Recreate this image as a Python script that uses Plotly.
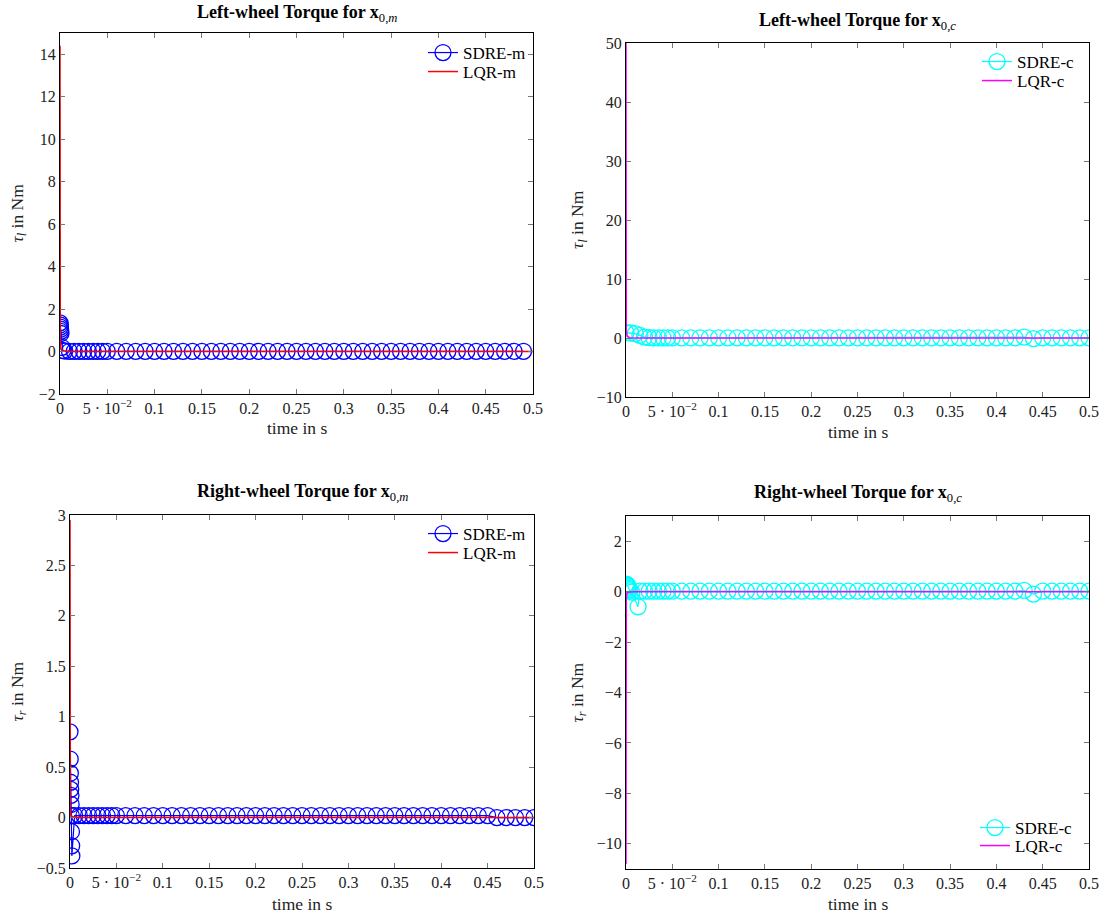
import plotly.graph_objects as go

# ---------------- data ----------------
# SDRE-m, left wheel
t_sdre_m_l = [0, 0.0002, 0.0004, 0.0006, 0.0008, 0.001, 0.002, 0.003,
              0.005, 0.01, 0.015, 0.02, 0.025, 0.03, 0.035, 0.04, 0.045, 0.05,
              0.06, 0.07, 0.08, 0.09, 0.1, 0.11, 0.12, 0.13, 0.14, 0.15, 0.16, 0.17, 0.18, 0.19,
              0.2, 0.21, 0.22, 0.23, 0.24, 0.25, 0.26, 0.27, 0.28, 0.29, 0.3, 0.31, 0.32, 0.33,
              0.34, 0.35, 0.36, 0.37, 0.38, 0.39, 0.4, 0.41, 0.42, 0.43, 0.44, 0.45, 0.46, 0.47,
              0.48, 0.49]
y_sdre_m_l = [1.35, 1.25, 1.15, 1.05, 0.95, 0.85, 0.2, 0.05,
              0.02, 0.01, 0.01, 0.01, 0.01, 0.01, 0.01, 0.01, 0.01, 0.01,
              0.01, 0.01, 0.01, 0.01, 0.01, 0.01, 0.01, 0.01, 0.01, 0.01, 0.01, 0.01, 0.01, 0.01,
              0.01, 0.01, 0.01, 0.01, 0.01, 0.01, 0.01, 0.01, 0.01, 0.01, 0.01, 0.01, 0.01, 0.01,
              0.01, 0.01, 0.01, 0.01, 0.01, 0.01, 0.01, 0.01, 0.01, 0.01, 0.01, 0.01, 0.01, 0.01,
              0.01, 0.01]
t_lqr_m_l = [0, 0.00005, 0.0001, 0.0003, 0.001, 0.004, 0.01, 0.05, 0.1, 0.2, 0.3, 0.4, 0.5]
y_lqr_m_l = [14.4, 6.0, 2.0, 0.5, 0.1, 0.02, 0.0, 0.0, 0.0, 0.0, 0.0, 0.0, 0.0]

# SDRE-c, left wheel
t_sdre_c_l = [0, 0.005, 0.01, 0.015, 0.02, 0.025, 0.03, 0.035, 0.04, 0.045, 0.05,
              0.06, 0.07, 0.08, 0.09, 0.1, 0.11, 0.12, 0.13, 0.14, 0.15, 0.16, 0.17, 0.18, 0.19,
              0.2, 0.21, 0.22, 0.23, 0.24, 0.25, 0.26, 0.27, 0.28, 0.29, 0.3, 0.31, 0.32, 0.33,
              0.34, 0.35, 0.36, 0.37, 0.38, 0.39, 0.4, 0.41, 0.42, 0.43, 0.44, 0.45, 0.46, 0.47,
              0.48, 0.49, 0.5]
y_sdre_c_l = [0.9, 0.85, 0.75, 0.45, 0.15, 0.05, 0.03, 0.03, 0.03, 0.03, 0.03,
              0.03, 0.03, 0.03, 0.03, 0.03, 0.03, 0.03, 0.03, 0.03, 0.03, 0.03, 0.03, 0.03, 0.03,
              0.03, 0.03, 0.03, 0.03, 0.03, 0.03, 0.03, 0.03, 0.03, 0.03, 0.03, 0.03, 0.03, 0.03,
              0.03, 0.03, 0.03, 0.03, 0.03, 0.03, 0.03, 0.03, 0.03, 0.15, -0.1, 0.03, 0.03, 0.03,
              0.03, 0.03, 0.03]
t_lqr_c_l = [0, 0.00005, 0.0001, 0.0003, 0.001, 0.004, 0.01, 0.05, 0.1, 0.2, 0.3, 0.4, 0.5]
y_lqr_c_l = [50.0, 20.0, 6.0, 1.5, 0.3, 0.05, 0.0, 0.0, 0.0, 0.0, 0.0, 0.0, 0.0]

# SDRE-m, right wheel
t_sdre_m_r = [0, 0.0002, 0.0004, 0.0006, 0.0008, 0.001, 0.0012, 0.0014, 0.0016, 0.0018, 0.002,
              0.005, 0.01, 0.015, 0.02, 0.025, 0.03, 0.035, 0.04, 0.045, 0.05,
              0.06, 0.07, 0.08, 0.09, 0.1, 0.11, 0.12, 0.13, 0.14, 0.15, 0.16, 0.17, 0.18, 0.19,
              0.2, 0.21, 0.22, 0.23, 0.24, 0.25, 0.26, 0.27, 0.28, 0.29, 0.3, 0.31, 0.32, 0.33,
              0.34, 0.35, 0.36, 0.37, 0.38, 0.39, 0.4, 0.41, 0.42, 0.43, 0.44, 0.45, 0.46, 0.47,
              0.48, 0.49, 0.5]
y_sdre_m_r = [0.85, 0.58, 0.44, 0.35, 0.28, 0.22, 0.13, 0.02, -0.14, -0.28, -0.38,
              0.02, 0.02, 0.02, 0.02, 0.02, 0.02, 0.02, 0.02, 0.02, 0.02,
              0.02, 0.02, 0.02, 0.02, 0.02, 0.02, 0.02, 0.02, 0.02, 0.02, 0.02, 0.02, 0.02, 0.02,
              0.02, 0.02, 0.02, 0.02, 0.02, 0.02, 0.02, 0.02, 0.02, 0.02, 0.02, 0.02, 0.02, 0.02,
              0.02, 0.02, 0.02, 0.02, 0.02, 0.02, 0.02, 0.02, 0.02, 0.02, 0.02, 0.02, 0.0, 0.0,
              0.0, 0.0, 0.0]
t_lqr_m_r = [0, 0.00005, 0.0001, 0.0003, 0.001, 0.004, 0.01, 0.05, 0.1, 0.2, 0.3, 0.4, 0.5]
y_lqr_m_r = [2.95, 1.2, 0.4, 0.1, 0.02, 0.005, 0.0, 0.0, 0.0, 0.0, 0.0, 0.0, 0.0]

# SDRE-c, right wheel
t_sdre_c_r = [0, 0.0004, 0.0008, 0.0012, 0.0016, 0.002, 0.0025, 0.003, 0.0035, 0.004,
              0.006, 0.013, 0.015, 0.02, 0.025, 0.03, 0.035, 0.04, 0.045, 0.05,
              0.06, 0.07, 0.08, 0.09, 0.1, 0.11, 0.12, 0.13, 0.14, 0.15, 0.16, 0.17, 0.18, 0.19,
              0.2, 0.21, 0.22, 0.23, 0.24, 0.25, 0.26, 0.27, 0.28, 0.29, 0.3, 0.31, 0.32, 0.33,
              0.34, 0.35, 0.36, 0.37, 0.38, 0.39, 0.4, 0.41, 0.42, 0.43, 0.44, 0.45, 0.46, 0.47,
              0.48, 0.49, 0.5]
y_sdre_c_r = [0.3, 0.29, 0.28, 0.27, 0.25, 0.22, 0.18, 0.13, 0.08, 0.03,
              -0.02, -0.6, 0.02, 0.02, 0.02, 0.02, 0.02, 0.02, 0.02, 0.02,
              0.02, 0.02, 0.02, 0.02, 0.02, 0.02, 0.02, 0.02, 0.02, 0.02, 0.02, 0.02, 0.02, 0.02,
              0.02, 0.02, 0.02, 0.02, 0.02, 0.02, 0.02, 0.02, 0.02, 0.02, 0.02, 0.02, 0.02, 0.02,
              0.02, 0.02, 0.02, 0.02, 0.02, 0.02, 0.02, 0.02, 0.02, 0.05, -0.1, 0.02, 0.02, 0.02,
              0.02, 0.02, 0.02]
t_lqr_c_r = [0, 0.00005, 0.0001, 0.0003, 0.001, 0.004, 0.01, 0.05, 0.1, 0.2, 0.3, 0.4, 0.5]
y_lqr_c_r = [-10.8, -4.0, -1.2, -0.3, -0.05, -0.01, 0.0, 0.0, 0.0, 0.0, 0.0, 0.0, 0.0]

x_tickvals = [0, 0.05, 0.1, 0.15, 0.2, 0.25, 0.3, 0.35, 0.4, 0.45, 0.5]
x_ticktext = ["0", "5 · 10<sup>−2</sup>", "0.1", "0.15", "0.2", "0.25", "0.3", "0.35", "0.4", "0.45", "0.5"]

yt_tl = [-2, 0, 2, 4, 6, 8, 10, 12, 14]
yt_tr = [-10, 0, 10, 20, 30, 40, 50]
yt_bl = [-0.5, 0, 0.5, 1, 1.5, 2, 2.5, 3]
yt_br = [-10, -8, -6, -4, -2, 0, 2]

titles = ["<b>Left-wheel Torque for x</b><sub>0,<i>m</i></sub>",
          "<b>Left-wheel Torque for x</b><sub>0,<i>c</i></sub>",
          "<b>Right-wheel Torque for x</b><sub>0,<i>m</i></sub>",
          "<b>Right-wheel Torque for x</b><sub>0,<i>c</i></sub>"]
ylabels = ["<i>τ<sub>l</sub></i> in Nm", "<i>τ<sub>l</sub></i> in Nm",
           "<i>τ<sub>r</sub></i> in Nm", "<i>τ<sub>r</sub></i> in Nm"]
xlabel = "time in s"

# ---------------- figure ----------------
W, H = 1107, 917
FONT = "Liberation Serif"
BLUE = "#0000ff"
RED = "#ff0000"
CYAN = "#00ffff"
MAGENTA = "#ff00ff"

# panel pixel boxes: left, right, top, bottom
boxes = [(60, 533, 33, 394), (626, 1089, 43, 397), (70, 534, 515, 868), (626, 1089, 516, 869)]
yranges = [[-2, 15], [-10, 50], [-0.5, 3], [-11, 3]]
yticks = [yt_tl, yt_tr, yt_bl, yt_br]

def fmt(v):
    s = ("%g" % v)
    return s.replace("-", "−")

fig = go.Figure()

series = [
    (t_sdre_m_l, y_sdre_m_l, "SDRE-m", BLUE, t_lqr_m_l, y_lqr_m_l, "LQR-m", RED),
    (t_sdre_c_l, y_sdre_c_l, "SDRE-c", CYAN, t_lqr_c_l, y_lqr_c_l, "LQR-c", MAGENTA),
    (t_sdre_m_r, y_sdre_m_r, "SDRE-m", BLUE, t_lqr_m_r, y_lqr_m_r, "LQR-m", RED),
    (t_sdre_c_r, y_sdre_c_r, "SDRE-c", CYAN, t_lqr_c_r, y_lqr_c_r, "LQR-c", MAGENTA),
]

# legend entries: (left x px, row centre y px) for SDRE row and LQR row
legend_rows = [((423, 53), (423, 72)), ((977, 62), (977, 81)),
               ((423, 534), (423, 553)), ((975, 828), (975, 846))]

annotations = []
layout_upd = {}
for i, (ts, ys, sn, sc, tl, yl, ln, lc) in enumerate(series):
    k = "" if i == 0 else str(i + 1)
    leg_a = "legend" if i == 0 else "legend" + str(2 * i + 1)
    leg_b = "legend" + str(2 * i + 2)
    fig.add_trace(go.Scatter(x=ts, y=ys, mode="lines+markers", name=sn,
                             line=dict(color=sc, width=1.2),
                             marker=dict(symbol="circle-open", size=16, color=sc, line=dict(width=1.3, color=sc)),
                             xaxis="x" + k, yaxis="y" + k, legend=leg_a))
    fig.add_trace(go.Scatter(x=tl, y=yl, mode="lines", name=ln,
                             line=dict(color=lc, width=1.5),
                             xaxis="x" + k, yaxis="y" + k, legend=leg_b))
    l, r, t, b = boxes[i]
    axcommon = dict(showline=True, linecolor="black", linewidth=1, mirror="ticks",
                    ticks="inside", ticklen=5, tickcolor="#777777", tickwidth=1,
                    showgrid=False, zeroline=False, automargin=False,
                    tickfont=dict(family=FONT, size=16, color="#222222"))
    layout_upd["xaxis" + k] = dict(domain=[l / W, r / W], anchor="y" + k, range=[0, 0.5],
                                   tickvals=x_tickvals, ticktext=x_ticktext, **axcommon)
    layout_upd["yaxis" + k] = dict(domain=[1 - b / H, 1 - t / H], anchor="x" + k, range=yranges[i],
                                   tickvals=yticks[i], ticktext=[fmt(v) for v in yticks[i]], **axcommon)
    for leg, (lx, ly) in zip((leg_a, leg_b), legend_rows[i]):
        layout_upd[leg] = dict(x=lx / W, y=1 - ly / H, xanchor="left", yanchor="middle",
                               xref="paper", yref="paper",
                               bgcolor="rgba(255,255,255,0)", borderwidth=0,
                               font=dict(family=FONT, size=17, color="black"),
                               itemwidth=30)
    cx = (l + r) / 2
    ty = [13, 21, 492, 494][i]
    annotations.append(dict(text=titles[i], x=cx / W, y=1 - ty / H, xref="paper", yref="paper",
                            showarrow=False, xanchor="center", yanchor="middle",
                            font=dict(family=FONT, size=18, color="black")))
    xty = [428, 432, 904, 904][i]
    annotations.append(dict(text=xlabel, x=cx / W, y=1 - xty / H, xref="paper", yref="paper",
                            showarrow=False, xanchor="center", yanchor="middle",
                            font=dict(family=FONT, size=17.5, color="#222222")))
    yx = [18, 578, 18, 578][i]
    annotations.append(dict(text=ylabels[i], x=yx / W, y=1 - ((t + b) / 2) / H, xref="paper", yref="paper",
                            showarrow=False, xanchor="center", yanchor="middle", textangle=-90,
                            font=dict(family=FONT, size=17.5, color="#222222")))

fig.update_layout(**layout_upd)
fig.update_layout(width=W, height=H, margin=dict(l=0, r=0, t=0, b=0, autoexpand=False),
                  paper_bgcolor="white", plot_bgcolor="white",
                  annotations=annotations, showlegend=True)

fig.write_html("out.html", config={"displayModeBar": False},
               post_script="document.body.style.margin='0px';")
